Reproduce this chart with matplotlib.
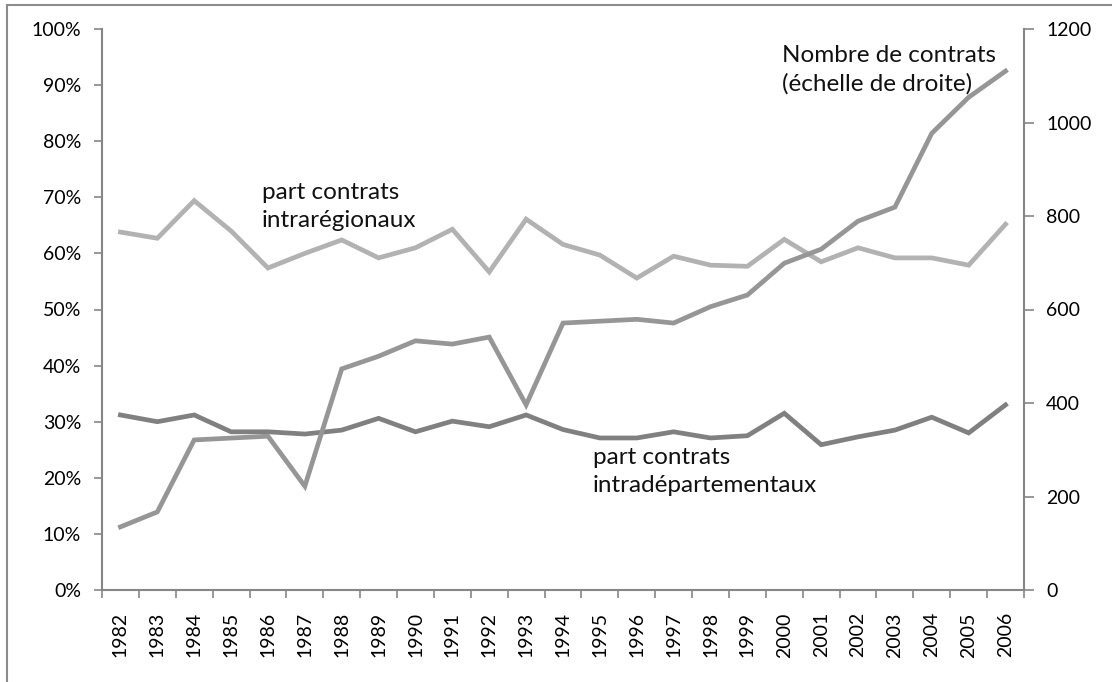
import matplotlib.pyplot as plt
from matplotlib.ticker import FixedLocator, PercentFormatter
import matplotlib.patches as patches

plt.rcParams['font.family'] = ['Lato', 'DejaVu Sans']

annees = [str(a) for a in range(1982, 2007)]

# part des contrats intrarégionaux (%)
intraregional = [63.8, 62.7, 69.4, 64.0, 57.4, 60.0, 62.4, 59.2, 61.0, 64.3,
                 56.7, 66.1, 61.6, 59.7, 55.6, 59.5, 57.9, 57.7, 62.5, 58.5,
                 61.0, 59.2, 59.2, 57.9, 65.2]
# part des contrats intradépartementaux (%)
intradep = [31.2, 30.0, 31.2, 28.2, 28.2, 27.8, 28.5, 30.6, 28.2, 30.1,
            29.1, 31.2, 28.6, 27.1, 27.1, 28.2, 27.1, 27.5, 31.5, 25.9,
            27.3, 28.5, 30.8, 28.0, 33.0]
# nombre de contrats (échelle de droite)
nb_contrats = [135, 167, 321, 325, 329, 222, 473, 500, 533, 526,
               541, 396, 571, 575, 579, 571, 606, 631, 699, 729,
               789, 819, 977, 1054, 1110]

W, H = 1112, 682
fig = plt.figure(figsize=(W / 100, H / 100), dpi=100)
ax = fig.add_axes([102 / W, 1 - 590 / H, (1024 - 102) / W, (590 - 29) / H])
ax2 = ax.twinx()

x = list(range(len(annees)))
axe_col = '#868686'

ax.plot(x, intraregional, color='#b2b2b2', lw=3.4, solid_joinstyle='miter')
ax.plot(x, intradep, color='#808080', lw=3.4, solid_joinstyle='miter')
ax2.plot(x, nb_contrats, color='#969696', lw=3.4, solid_joinstyle='miter')

ax.set_xlim(-0.5, len(annees) - 0.5)
ax.set_ylim(0, 100)
ax2.set_ylim(0, 1200)

ax.set_yticks(range(0, 101, 10))
ax.yaxis.set_major_formatter(PercentFormatter(decimals=0))
ax2.set_yticks(range(0, 1201, 200))

ax.set_xticks(x)
ax.set_xticklabels(annees, rotation=90)
ax.xaxis.set_minor_locator(FixedLocator([i - 0.5 for i in range(len(annees) + 1)]))
ax.tick_params(axis='x', which='major', length=0, pad=16, labelsize=14)
ax.tick_params(axis='x', which='minor', length=6, width=1.2, color=axe_col, direction='out')
ax.tick_params(axis='y', length=6, width=1.2, color=axe_col, pad=9, labelsize=14)
ax2.tick_params(axis='y', length=7, width=1.2, color=axe_col, pad=9, labelsize=14)

for a in (ax, ax2):
    a.spines['top'].set_visible(False)
    for s in ('left', 'right', 'bottom'):
        a.spines[s].set_color(axe_col)
        a.spines[s].set_linewidth(1.5)
ax.spines['right'].set_visible(False)
ax2.spines['left'].set_visible(False)
ax2.spines['bottom'].set_visible(False)

# annotations (coordonnées en pixels de la figure)
def note(px, py, txt):
    fig.text(px / W, 1 - py / H, txt, fontsize=17.5, ha='left', va='top',
             linespacing=1.4, color='#111111')

note(262, 182, 'part contrats\nintrarégionaux')
note(782, 45, 'Nombre de contrats\n(échelle de droite)')
note(593, 447, 'part contrats\nintradépartementaux')

# cadre du graphique
cadre = patches.Rectangle((7 / W, -0.1), 1.1, 1 - 5 / H + 0.1, transform=fig.transFigure,
                          fill=False, edgecolor='#8c8c8c', lw=1.5)
fig.patches.append(cadre)

fig.savefig('out.png', dpi=100)
